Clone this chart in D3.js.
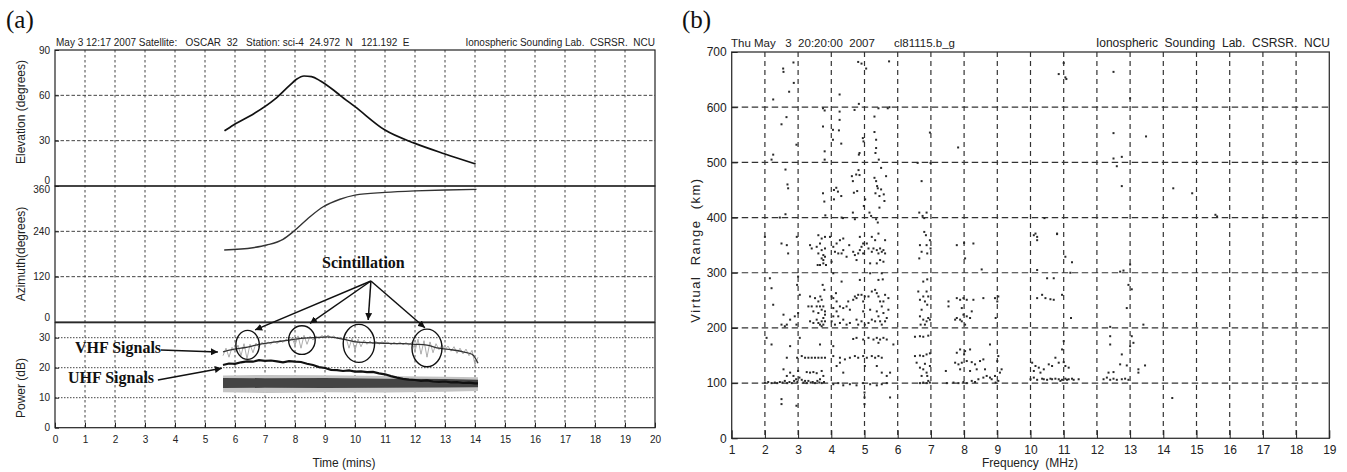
<!DOCTYPE html>
<html>
<head>
<meta charset="utf-8">
<script src="https://cdn.jsdelivr.net/npm/d3@7"></script>
<style>
body{margin:0;background:#fff;}
svg text{font-family:"Liberation Sans", Arial, sans-serif;fill:#222;}
.note{font-family:"Liberation Serif", "DejaVu Serif", serif;font-weight:bold;font-size:16px;fill:#111;}
.plabel{font-family:"Liberation Serif", serif;font-size:25px;fill:#111;}
</style>
</head>
<body>
<svg id="chart" width="1347" height="472"></svg>
<script>
// ---------- panel (a) : satellite pass ----------
var minuteTicks = [0,1,2,3,4,5,6,7,8,9,10,11,12,13,14,15,16,17,18,19,20];
var elevTicks = [0,30,60,90];
var azTicks = [0,120,240,360];
var powTicks = [0,10,20,30];

var elevTime = [5.65, 5.95, 6.64, 7.33, 7.83, 8.05, 8.3, 8.55, 8.85, 9.28, 9.5, 10, 11, 12, 13, 14.02];
var elevDeg  = [36.5, 40.4, 48, 57.5, 66.8, 70.6, 72.8, 72.4, 69.5, 63.5, 60, 52.5, 37, 28.2, 21.2, 14.6];

var azTime = [5.64, 6.6, 7.06, 7.6, 7.94, 8.5, 8.94, 9.5, 10, 11, 12, 13, 14.05];
var azDeg  = [190.6, 196.7, 203.8, 218.9, 239, 278.7, 305, 325, 336, 343, 347, 349.5, 351];

// VHF received power, read every 0.1 min (noisy trace)
var vhfTime = [5.6,5.7,5.8,5.9,6.0,6.1,6.2,6.3,6.4,6.5,6.6,6.7,6.8,6.9,7.0,7.1,7.2,7.3,7.4,7.5,7.6,7.7,7.8,7.9,
 8.0,8.1,8.2,8.3,8.4,8.5,8.6,8.7,8.8,8.9,9.0,9.1,9.2,9.3,9.4,9.5,9.6,9.7,9.8,9.9,
 10.0,10.1,10.2,10.3,10.4,10.5,10.6,10.7,10.8,10.9,11.0,11.1,11.2,11.3,11.4,11.5,11.6,11.7,11.8,11.9,
 12.0,12.1,12.2,12.3,12.4,12.5,12.6,12.7,12.8,12.9,13.0,13.1,13.2,13.3,13.4,13.5,13.6,13.7,13.8,13.9,14.0,14.1];
var vhfDb = [24.0,26.5,23.5,26.8,25.2,27.5,24.0,28.0,23.0,27.8,25.0,28.2,26.8,28.5,27.4,28.6,27.8,29.0,28.0,29.2,28.4,29.5,28.6,30.0,
 27.5,30.6,26.5,30.8,27.8,30.5,29.2,30.6,29.6,30.8,29.8,30.9,30.0,30.6,29.6,30.2,29.3,30.0,26.5,29.8,
 25.8,29.5,27.0,29.2,27.8,28.9,27.9,28.8,27.8,28.7,27.9,28.6,27.6,28.5,27.8,28.6,27.6,28.4,27.5,28.6,
 25.5,29.5,24.5,29.0,23.5,28.6,25.0,28.0,26.0,27.6,26.0,27.2,25.5,27.0,24.8,26.5,24.6,26.2,24.0,25.8,21.0,23.5];
// smoothed VHF level
var vhfTrendTime = [5.6, 5.9, 6.2, 6.5, 6.8, 7.3, 7.8, 8.2, 8.6, 9.1, 9.6, 10.1, 10.6, 11.1, 11.6, 12.0, 12.4, 12.8, 13.2, 13.6, 13.9, 14.05, 14.1];
var vhfTrend     = [25.3, 26, 26.5, 27, 27.8, 28.5, 29.2, 29.8, 30, 30.3, 29.5, 28.5, 28.3, 28.1, 28, 27.8, 27.5, 26.5, 26, 25.3, 24.5, 22.5, 21.5];

var uhfTime = [5.6,5.8,6.0,6.2,6.4,6.6,6.8,7.0,7.2,7.4,7.6,7.8,8.0,8.2,8.4,8.6,8.8,9.0,9.2,9.4,9.6,9.8,
 10.0,10.2,10.4,10.6,10.8,11.0,11.2,11.4,11.6,11.8,12.0,12.2,12.4,12.6,12.8,13.0,13.2,13.4,13.6,13.8,14.0,14.1];
var uhfDb = [20.9,21.4,21.3,21.8,22.1,22.0,22.5,22.3,22.4,22.1,21.8,22.2,22.0,21.9,21.3,20.9,20.2,19.9,19.3,19.2,18.9,19.1,
 18.7,18.8,18.5,18.6,18.1,17.8,17.2,16.7,16.3,16.0,15.9,15.6,15.8,15.4,15.3,15.4,15.1,15.2,14.9,15.0,14.8,14.8];

var noiseTime     = [5.6, 7, 9, 11, 13, 14.1];
var noiseOuterLow = [11.8, 11.6, 11.8, 11.7, 12, 12.2];
var noiseOuterHigh= [17.4, 17.6, 17.5, 17.2, 17, 16.8];
var noiseCoreLow  = [13.2, 13.3, 13.2, 13.3, 13.4, 13.5];
var noiseCoreHigh = [16.6, 16.5, 16.6, 16.3, 16.2, 16.0];

// scintillation circles: time, dB, radius x, radius y (px)
var scintCircles = [[6.42, 27.6, 11.7, 14.5], [8.23, 29.2, 13.3, 14.3], [10.13, 28.1, 15.7, 19], [12.4, 26.6, 15, 18.8]];
var scintArrowFrom = [10.53, 48.9];
var scintArrowTo = [[6.67, 32.6], [8.5, 34.8], [10.44, 35.9], [12.33, 33.3]];

// ---------- panel (b) : ionogram ----------
var freqTicks = [1,2,3,4,5,6,7,8,9,10,11,12,13,14,15,16,17,18,19];
var rangeTicks = [0,100,200,300,400,500,600,700];

var echoesHigh = [[2.25,514],[2.2,505],[2.25,614],[2.55,670],[2.56,664],[2.86,681],[2.73,628],[2.87,644],[2.65,582],[2.5,569],[2.62,487],[2.68,460],[2.7,453],[2.95,532],[2.62,406],[2.45,400],
 [3.75,598],[3.8,594],[3.75,565],[3.8,520],[3.8,505],[3.75,444],[3.79,429],[3.82,404],[4.05,559],[4.05,541],[4.25,623],[4.25,592],[4.25,577],[4.23,558],[4.3,534],[4.08,450],[4.15,454],[4.2,447],[4.3,439],[4.31,400],[4.08,433],[4.35,399],
 [4.62,475],[4.65,466],[4.75,478],[4.85,477],[4.68,445],[4.78,448],[4.65,409],[4.71,397],[4.82,486],[4.83,514],[4.85,517],[4.7,595],[4.83,606],[4.81,682],[4.91,679],[5.05,670],[4.95,544],[4.97,538],[5.02,433],[4.98,421],[5.15,409],
 [5.3,583],[5.3,555],[5.35,541],[5.35,526],[5.33,517],[5.3,472],[5.35,466],[5.38,457],[5.4,453],[5.5,451],[5.33,444],[5.45,439],[5.58,442],[5.65,475],[5.5,490],[5.43,505],[5.6,430],[5.45,418],[5.35,397],[5.4,391],[5.7,598],[5.75,600],[5.42,598],[5.74,683],[5.2,403],
 [6.6,499],[6.72,466],[6.65,409],[6.75,403],[6.8,399],[6.87,409],[6.8,374],[6.97,554],[6.99,499],[7.82,527],
 [10.85,660],[11.0,680],[11.08,651],[11.05,654],[12.5,664],[13.0,616],[12.5,553],[13.48,547],[12.5,507],[12.75,510],[12.6,493],[12.75,457],[14.3,453],[14.87,444],[15.57,405],[15.62,402],[10.42,399],[10.15,371],[10.2,365],[10.8,371]];

var echoesF2 = [[2.0,365],[2.66,350],[2.7,335],[2.5,353],[2.96,365],
 [3.36,350],[3.41,344],[3.56,347],[3.61,335],[3.66,353],[3.71,341],[3.76,332],[3.76,317],[3.66,314],[3.59,314],[3.81,344],[3.81,365],[3.71,362],[3.61,368],[3.76,323],[3.81,329],[3.71,326],[3.84,314],
 [3.96,365],[4.06,347],[4.11,338],[4.21,335],[4.31,335],[4.36,341],[4.26,359],[4.46,329],[4.54,350],[4.01,320],[4.06,299],[4.36,362],[4.16,353],[4.66,338],[4.71,332],[4.76,323],[4.81,335],[4.86,341],[4.91,347],[4.96,335],[4.96,353],[4.86,365],
 [5.07,353],[5.12,344],[5.22,338],[5.27,344],[5.37,341],[5.42,335],[5.47,344],[5.52,338],[5.57,341],[5.62,335],[5.47,323],[5.57,320],[5.37,317],[5.17,317],[5.32,359],[5.22,365],[5.42,371],[5.62,359],[5.17,299],[5.52,299],
 [6.67,350],[6.72,338],[6.65,326],[6.87,350],[6.89,335],[6.85,368],[6.97,359],[6.99,344],
 [7.78,350],[8.03,326],[8.28,353],[8.53,306],[8.0,354]];

var echoesMid = [[2.15,290],[2.2,272],[2.25,242],[2.56,224],[2.5,206],[2.6,203],[2.66,206],[2.76,215],[2.9,221],[2.95,206],[3.0,227],[3.05,260],[2.97,278],[3.0,293],
 [3.31,239],[3.41,239],[3.46,230],[3.56,239],[3.61,227],[3.66,239],[3.71,233],[3.76,239],[3.81,230],[3.36,212],[3.46,209],[3.56,215],[3.61,209],[3.66,206],[3.71,212],[3.76,206],[3.81,212],[3.71,203],[3.76,218],[3.79,269],[3.74,278],[3.67,257],[3.61,248],[3.71,251],[3.51,254],[3.36,257],[3.81,224],
 [4.01,257],[4.06,254],[4.16,248],[4.26,239],[4.36,236],[4.46,239],[4.56,233],[4.06,236],[4.16,230],[4.21,221],[4.06,221],[4.01,212],[4.11,206],[4.26,209],[4.36,215],[4.46,206],[4.56,209],[4.31,284],[4.14,263],[4.51,248],
 [4.66,251],[4.71,257],[4.76,254],[4.81,260],[4.91,260],[4.96,248],[5.01,257],[5.12,257],[5.22,266],[5.32,269],[5.37,263],[5.42,257],[5.47,248],[5.52,239],[5.57,248],[5.62,260],[5.72,254],[5.42,287],[5.55,288],[4.86,287],[4.76,215],[4.81,206],[4.91,212],[5.01,206],[5.12,209],[5.22,215],[5.32,212],[5.42,221],[5.47,212],[5.52,206],[5.62,212],[5.67,218],[5.57,227],[5.37,230],[5.17,233],[5.72,233],[4.96,230],
 [6.62,266],[6.67,251],[6.77,257],[6.87,266],[6.92,257],[6.82,248],[6.89,242],[6.72,233],[6.67,221],[6.77,215],[6.87,212],[6.92,218],[6.69,206],[6.82,206],[6.89,288],[6.77,284],[6.97,215],
 [7.53,248],[7.53,239],[7.78,254],[7.88,251],[7.98,254],[8.08,251],[7.93,236],[7.78,218],[7.88,215],[7.98,224],[8.08,221],[8.18,218],[8.23,230],[8.03,206],[7.93,212],[8.28,251],[8.58,254],[8.93,254],[9.03,257],[9.0,248],[8.95,218],[7.73,215]];

var echoesLow = [[2.0,101],[2.1,102],[2.2,100],[2.3,101],[2.37,100],[2.45,102],[2.53,101],[2.6,104],[2.67,100],[2.74,102],[2.81,100],[2.88,104],[2.94,107],[2.98,102],[3.04,110],[3.11,106],[3.16,101],[3.21,104],[3.26,100],[3.31,104],[3.38,101],[3.44,102],[3.51,100],[3.58,104],[3.64,101],[3.71,100],[3.78,102],[3.66,107],[2.86,113],
 [2.05,182],[2.2,170],[2.66,146],[2.76,167],[2.56,125],[2.66,113],[2.76,119],[3.0,122],[3.11,149],[3.21,146],[3.31,146],[3.41,146],[3.51,146],[3.61,146],[3.71,146],[3.81,146],[2.97,146],[3.26,120],[3.36,119],[3.46,120],[3.56,118],[3.71,122],[3.76,113],[3.66,170],[3.05,182],
 [4.06,98],[4.21,100],[4.36,96],[4.56,98],[4.76,96],[4.96,100],[5.17,98],[5.37,96],[5.52,98],[5.67,100],
 [4.06,149],[4.26,146],[4.41,143],[4.56,146],[4.71,149],[4.81,146],[4.96,149],[5.07,146],[5.22,149],[5.32,146],[5.42,149],[5.52,146],
 [4.66,180],[4.76,182],[4.96,179],[5.12,182],[5.27,179],[5.37,182],[5.47,179],[5.57,182],[5.67,179],
 [4.06,167],[4.16,131],[4.36,119],[4.26,137],[5.01,131],[5.37,131],[5.52,119],[5.67,113],[5.77,119],[5.42,173],[5.87,170],
 [6.67,100],[6.77,101],[6.87,100],[6.97,101],[6.92,104],[6.52,149],[6.67,150],[6.77,149],[6.87,152],[6.97,154],[6.52,184],[6.67,185],[6.77,184],[6.92,186],[6.57,137],[6.67,128],[6.77,125],[6.87,119],[6.82,135],[6.97,131],[6.89,113],[6.72,113],
 [7.48,100],[7.68,101],[7.83,100],[7.98,102],[8.08,100],[8.23,104],[8.33,102],[8.43,107],[8.58,110],[8.68,113],[8.78,110],[8.83,107],[8.93,113],[9.03,104],[8.95,101],[9.08,119],[9.13,125],[9.0,140],[9.03,149],
 [7.78,155],[7.88,161],[8.03,158],[8.18,161],[8.0,152],[7.73,137],[7.83,134],[7.93,137],[8.08,140],[8.23,138],[8.33,134],[8.48,140],[8.58,143],[7.88,125],[8.18,122],[8.38,125],[8.63,125],[7.45,122],[8.78,170],
 [2.5,71],[2.5,62],[2.95,59],[5.0,74],[5.0,62],[5.77,74],[5.0,83]];

var echoesHighFreq = [[10.0,107],[10.1,110],[10.2,106],[10.35,108],[10.5,106],[10.65,107],[10.75,108],[10.85,107],[10.95,106],[11.05,108],[11.15,107],[11.3,106],[11.45,107],[10.4,107],[10.6,108],[10.9,104],[11.1,106],[11.25,108],
 [10.05,137],[10.15,131],[10.25,128],[10.4,125],[10.55,134],[10.65,131],[10.75,146],[10.85,137],[11.0,138],[11.05,131],[11.15,128],[10.3,119],[10.1,122],[10.95,161],[11.0,176],
 [10.2,254],[10.35,260],[10.45,254],[10.6,252],[10.7,251],[10.95,260],
 [10.2,305],[10.5,290],[10.7,290],[11.05,329],[11.2,300],[11.22,218],[11.25,319],[10.8,370],[10.1,368],[10.2,359],
 [12.2,107],[12.3,110],[12.4,106],[12.5,108],[12.6,106],[12.75,107],[12.85,108],[12.95,106],[12.35,119],[12.5,120],
 [12.4,185],[12.4,170],[12.75,152],[12.7,134],[12.9,132],[13.25,125],[13.25,119],[13.45,132],[13.0,167],[13.05,185],[13.1,173],[12.4,202],[12.9,236],[12.95,278],[13.05,270],[13.0,315],[12.8,304],[12.7,302],[13.4,206],
 [14.27,73]];

var svg = d3.select("#chart");

var defs = svg.append("defs");
defs.append("marker")
    .attr("id", "arrow")
    .attr("viewBox", "0 0 10 10")
    .attr("refX", 10).attr("refY", 5)
    .attr("markerWidth", 7).attr("markerHeight", 7)
    .attr("markerUnits", "userSpaceOnUse")
    .attr("orient", "auto")
  .append("path")
    .attr("d", "M0,0 L10,5 L0,10 z")
    .attr("fill", "#111");

function zip(xs, ys){ return xs.map(function(x, i){ return [x, ys[i]]; }); }

function styleAxis(g){
    g.select(".domain").remove();
    g.selectAll(".tick line").attr("stroke", "#222");
    g.selectAll(".tick text").attr("fill", "#333");
}

// =============== panel (a) ===============
var xA = d3.scaleLinear().domain([0, 20]).range([55, 655]);
var yElev = d3.scaleLinear().domain([0, 90]).range([186, 50]);
var yAz = d3.scaleLinear().domain([0, 360]).range([322, 186]);
var yPow = d3.scaleLinear().domain([0, 35]).range([427.7, 322.7]);

var gA = svg.append("g");

// vertical dotted grid through all three panels
gA.append("g").selectAll("line")
    .data(minuteTicks.filter(function(d){ return d > 0 && d < 20; }))
    .enter().append("line")
    .attr("x1", function(d){ return xA(d); }).attr("x2", function(d){ return xA(d); })
    .attr("y1", 50).attr("y2", 427.7)
    .attr("stroke", "#444").attr("stroke-width", 1)
    .attr("stroke-dasharray", "2.5,2.5");

function hGrid(scale, vals, dash){
    gA.append("g").selectAll("line")
        .data(vals).enter().append("line")
        .attr("x1", 55).attr("x2", 655)
        .attr("y1", function(d){ return scale(d); }).attr("y2", function(d){ return scale(d); })
        .attr("stroke", "#444").attr("stroke-width", 1)
        .attr("stroke-dasharray", dash);
}
hGrid(yElev, [30, 60], "3.5,2");
hGrid(yAz, [120, 240], "3.5,2");
hGrid(yPow, [10, 20, 30], "1.5,1.5");

// panel frames
[[yElev, 90, 0], [yAz, 360, 0], [yPow, 35, 0]].forEach(function(p){
    gA.append("rect")
        .attr("x", 55).attr("y", p[0](p[1]))
        .attr("width", 600).attr("height", p[0](p[2]) - p[0](p[1]))
        .attr("fill", "none").attr("stroke", "#222").attr("stroke-width", 1.2);
});

// axes
var axA = gA.append("g").attr("transform", "translate(0,427.7)")
    .call(d3.axisBottom(xA).tickValues(minuteTicks).tickSizeInner(-5).tickSizeOuter(0).tickPadding(8));
axA.call(styleAxis).selectAll("text").attr("font-size", 10);

var axE = gA.append("g").attr("transform", "translate(55,0)")
    .call(d3.axisLeft(yElev).tickValues(elevTicks).tickSizeInner(-4).tickSizeOuter(0).tickPadding(5));
axE.call(styleAxis).selectAll("text").attr("font-size", 10)
    .attr("dy", function(d){ return d === 0 ? "-0.25em" : "0.32em"; });

var axZ = gA.append("g").attr("transform", "translate(55,0)")
    .call(d3.axisLeft(yAz).tickValues(azTicks).tickSizeInner(-4).tickSizeOuter(0).tickPadding(5));
axZ.call(styleAxis).selectAll("text").attr("font-size", 10)
    .attr("dy", function(d){ return d === 0 ? "-0.2em" : (d === 360 ? "0.6em" : "0.32em"); });

var axP = gA.append("g").attr("transform", "translate(55,0)")
    .call(d3.axisLeft(yPow).tickValues(powTicks).tickSizeInner(-4).tickSizeOuter(0).tickPadding(5));
axP.call(styleAxis).selectAll("text").attr("font-size", 10);

// axis titles
function vTitle(g, x, y, txt, size, spacing){
    g.append("text")
        .attr("transform", "translate(" + x + "," + y + ") rotate(-90)")
        .attr("text-anchor", "middle")
        .attr("font-size", size)
        .attr("letter-spacing", spacing || 0)
        .attr("xml:space", "preserve")
        .attr("fill", "#222")
        .text(txt);
}
vTitle(gA, 25, 112, "Elevation (degrees)", 12);
vTitle(gA, 25, 254, "Azimuth(degrees)", 12);
vTitle(gA, 25, 388, "Power (dB)", 12);
gA.append("text").attr("x", 344).attr("y", 467).attr("text-anchor", "middle")
    .attr("font-size", 12).text("Time (mins)");

// headers
gA.append("text").attr("x", 56).attr("y", 46).attr("font-size", 10)
    .attr("xml:space", "preserve")
    .text("May 3 12:17 2007 Satellite:   OSCAR  32   Station: sci-4  24.972  N   121.192  E");
gA.append("text").attr("x", 655).attr("y", 46).attr("font-size", 10).attr("text-anchor", "end")
    .attr("xml:space", "preserve")
    .text("Ionospheric Sounding Lab.  CSRSR.  NCU");
svg.append("text").attr("class", "plabel").attr("x", 6).attr("y", 28).text("(a)");

// elevation and azimuth curves
var lineE = d3.line().x(function(d){ return xA(d[0]); }).y(function(d){ return yElev(d[1]); }).curve(d3.curveMonotoneX);
gA.append("path").attr("d", lineE(zip(elevTime, elevDeg)))
    .attr("fill", "none").attr("stroke", "#111").attr("stroke-width", 1.7);

var lineZ = d3.line().x(function(d){ return xA(d[0]); }).y(function(d){ return yAz(d[1]); }).curve(d3.curveMonotoneX);
gA.append("path").attr("d", lineZ(zip(azTime, azDeg)))
    .attr("fill", "none").attr("stroke", "#333").attr("stroke-width", 1.4);

// power traces
function band(times, lo, hi){
    return d3.area()
        .x(function(d, i){ return xA(times[i]); })
        .y0(function(d, i){ return yPow(lo[i]); })
        .y1(function(d, i){ return yPow(hi[i]); })(times);
}
gA.append("path").attr("d", band(noiseTime, noiseOuterLow, noiseOuterHigh)).attr("fill", "#c4c4c4");
gA.append("path").attr("d", band(noiseTime, noiseCoreLow, noiseCoreHigh)).attr("fill", "#444");

var lineP = d3.line().x(function(d){ return xA(d[0]); }).y(function(d){ return yPow(d[1]); });
gA.append("path").attr("d", lineP(zip(vhfTime, vhfDb)))
    .attr("fill", "none").attr("stroke", "#999").attr("stroke-width", 0.8);
gA.append("path").attr("d", lineP.curve(d3.curveMonotoneX)(zip(vhfTrendTime, vhfTrend)))
    .attr("fill", "none").attr("stroke", "#333").attr("stroke-width", 1.3);
lineP.curve(d3.curveLinear);
gA.append("path").attr("d", lineP(zip(uhfTime, uhfDb)))
    .attr("fill", "none").attr("stroke", "#111").attr("stroke-width", 2.2);

// annotations
gA.selectAll(".scint").data(scintCircles).enter().append("ellipse")
    .attr("cx", function(d){ return xA(d[0]); }).attr("cy", function(d){ return yPow(d[1]); })
    .attr("rx", function(d){ return d[2]; }).attr("ry", function(d){ return d[3]; })
    .attr("fill", "none").attr("stroke", "#111").attr("stroke-width", 1.4);

gA.selectAll(".sarrow").data(scintArrowTo).enter().append("line")
    .attr("x1", xA(scintArrowFrom[0])).attr("y1", yPow(scintArrowFrom[1]))
    .attr("x2", function(d){ return xA(d[0]); }).attr("y2", function(d){ return yPow(d[1]); })
    .attr("stroke", "#111").attr("stroke-width", 1.5).attr("marker-end", "url(#arrow)");

gA.append("text").attr("class", "note").attr("x", xA(10.28)).attr("y", yPow(53.3))
    .attr("text-anchor", "middle").text("Scintillation");
gA.append("text").attr("class", "note").attr("x", 75).attr("y", yPow(24.9)).text("VHF Signals");
gA.append("text").attr("class", "note").attr("x", 68).attr("y", yPow(14.9)).text("UHF Signals");
gA.append("line").attr("x1", xA(3.53)).attr("y1", yPow(25.9)).attr("x2", xA(5.43)).attr("y2", yPow(25.2))
    .attr("stroke", "#111").attr("stroke-width", 1.5).attr("marker-end", "url(#arrow)");
gA.append("line").attr("x1", xA(3.43)).attr("y1", yPow(15.9)).attr("x2", xA(5.56)).attr("y2", yPow(19.8))
    .attr("stroke", "#111").attr("stroke-width", 1.5).attr("marker-end", "url(#arrow)");

// =============== panel (b) ===============
var xB = d3.scaleLinear().domain([1, 19]).range([731.7, 1329.3]);
var yB = d3.scaleLinear().domain([0, 700]).range([438.3, 52]);
var gB = svg.append("g");

gB.append("g").selectAll("line")
    .data(freqTicks.filter(function(d){ return d > 1 && d < 19; }))
    .enter().append("line")
    .attr("x1", function(d){ return xB(d); }).attr("x2", function(d){ return xB(d); })
    .attr("y1", 52).attr("y2", 438.3)
    .attr("stroke", "#333").attr("stroke-width", 1.2).attr("stroke-dasharray", "5,4");
gB.append("g").selectAll("line")
    .data(rangeTicks.filter(function(d){ return d > 0 && d < 700; }))
    .enter().append("line")
    .attr("x1", 731.7).attr("x2", 1329.3)
    .attr("y1", function(d){ return yB(d); }).attr("y2", function(d){ return yB(d); })
    .attr("stroke", "#333").attr("stroke-width", 1.2).attr("stroke-dasharray", "6.5,3.5");

gB.append("rect").attr("x", 731.7).attr("y", 52).attr("width", 1329.3 - 731.7).attr("height", 438.3 - 52)
    .attr("fill", "none").attr("stroke", "#333").attr("stroke-width", 1.3);

var axF = gB.append("g").attr("transform", "translate(0,438.3)")
    .call(d3.axisBottom(xB).tickValues(freqTicks).tickSizeInner(-8).tickSizeOuter(0).tickPadding(7));
axF.call(styleAxis).selectAll("text").attr("font-size", 12);
var axR = gB.append("g").attr("transform", "translate(731.7,0)")
    .call(d3.axisLeft(yB).tickValues(rangeTicks).tickSizeInner(-6).tickSizeOuter(0).tickPadding(5));
axR.call(styleAxis).selectAll("text").attr("font-size", 12);

vTitle(gB, 700, 250, "Virtual  Range  (km)", 13, 1.5);
gB.append("text").attr("x", 1030).attr("y", 467).attr("text-anchor", "middle").attr("font-size", 12)
    .attr("xml:space", "preserve").text("Frequency  (MHz)");
gB.append("text").attr("x", 731).attr("y", 47).attr("font-size", 11.5)
    .attr("xml:space", "preserve").text("Thu May   3  20:20:00  2007      cl81115.b_g");
gB.append("text").attr("x", 1330).attr("y", 47).attr("font-size", 12).attr("text-anchor", "end")
    .attr("xml:space", "preserve").text("Ionospheric  Sounding  Lab.  CSRSR.  NCU");
svg.append("text").attr("class", "plabel").attr("x", 682).attr("y", 28).text("(b)");

var echoes = echoesLow.concat(echoesMid, echoesF2, echoesHigh, echoesHighFreq);
gB.append("g").selectAll("rect").data(echoes).enter().append("rect")
    .attr("x", function(d){ return xB(d[0]) - 1; })
    .attr("y", function(d){ return yB(d[1]) - 1; })
    .attr("width", 2).attr("height", 2)
    .attr("fill", "#2a2a2a");
</script>
</body>
</html>
